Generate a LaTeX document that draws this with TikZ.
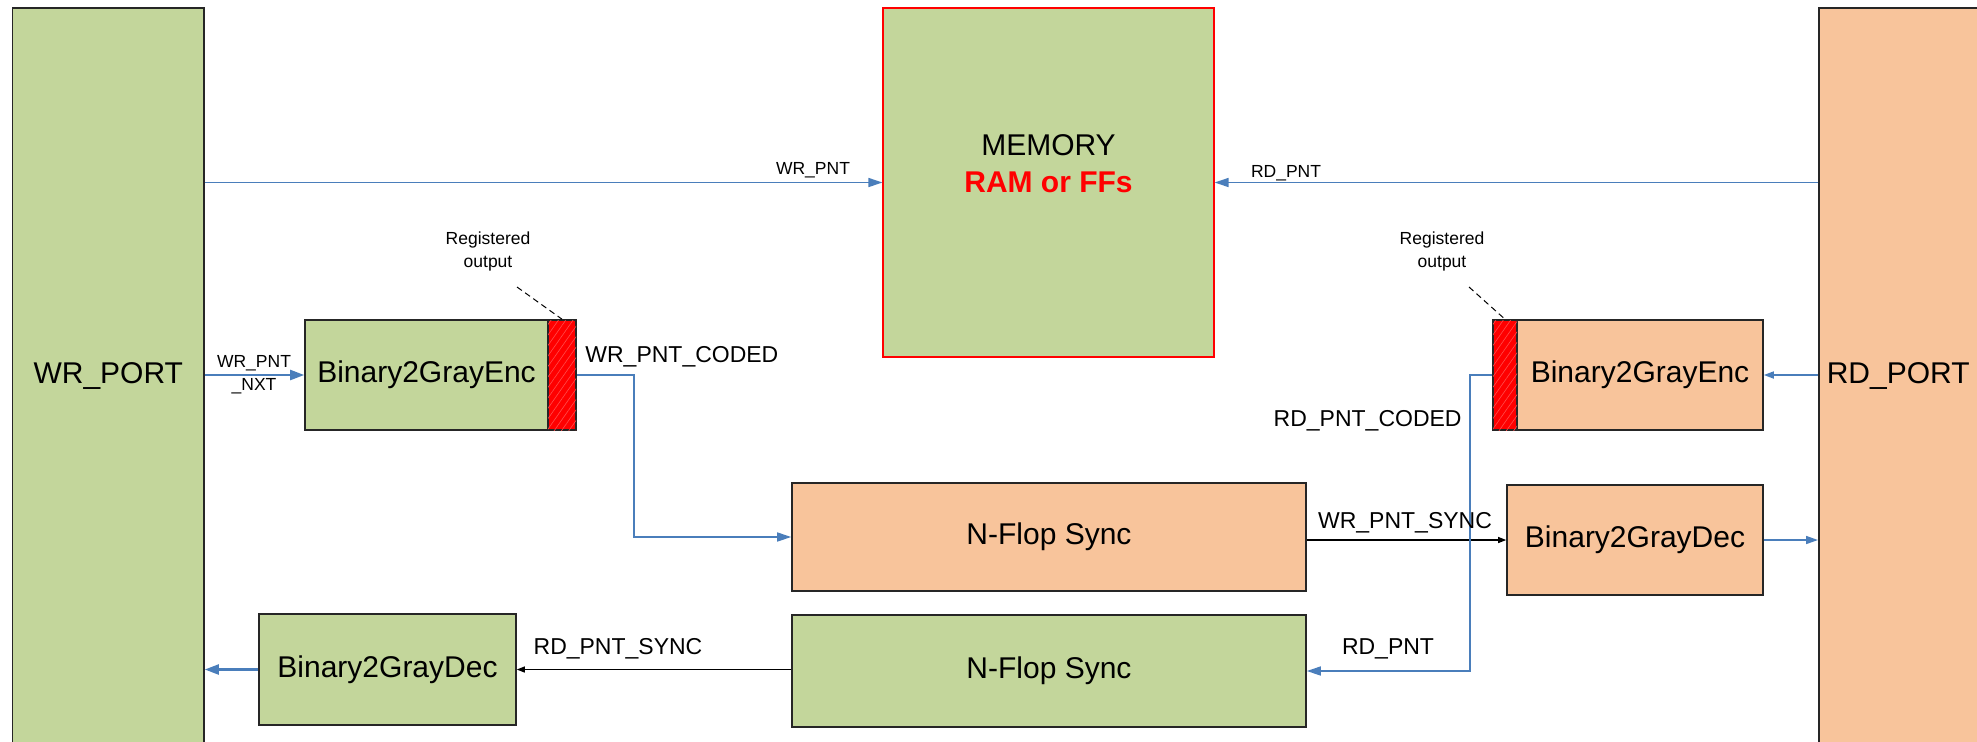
\documentclass[tikz,border=0pt]{standalone}
\usepackage{fontspec}
\setmainfont{Liberation Sans}
\usetikzlibrary{arrows.meta,patterns.meta}
\definecolor{bgreen}{HTML}{C3D69B}
\definecolor{borange}{HTML}{F8C49B}
\definecolor{lblue}{HTML}{4A7EBB}
\begin{document}
\begin{tikzpicture}[x=0.5pt,y=-0.5pt,
  box/.style={draw=black!85, line width=0.8pt, inner sep=0pt, font=\fontsize{15}{18}\selectfont},
  gbox/.style={box, fill=bgreen},
  obox/.style={box, fill=borange},
  regstrip/.style={draw=black!85, line width=0.8pt, fill=red, inner sep=0pt,
    postaction={pattern={Lines[angle=55,distance=3pt,line width=0.3pt]}, pattern color=red!70!white}},
  wire/.style={draw=lblue, line width=0.8pt},
  bigtip/.style={-{Triangle[length=7pt,width=4.5pt]}},
  sig/.style={draw=black, line width=0.6pt, -{Triangle[length=4pt,width=3pt]}},
  lbl/.style={font=\fontsize{11.5}{13}\selectfont, inner sep=0pt},
  small/.style={font=\fontsize{8.75}{11.5}\selectfont, align=center, inner sep=0pt},
  note/.style={draw=black, line width=0.5pt, dash pattern=on 3pt off 2pt}
]
\useasboundingbox (0,0) rectangle (1977,741);

% ports and memory
\node[gbox, minimum width=95.7pt, minimum height=368pt] (wrport) at (108.3,376) {WR\_PORT};
\node[obox, anchor=west, minimum height=368pt, text width=133pt, align=left, inner xsep=4pt] (rdport) at (1818,376) {RD\_PORT};
\node[fill=bgreen, draw=red, line width=0.6pt, minimum width=165.5pt, minimum height=174.5pt, inner sep=0pt] (memory) at (1048.5,182.5) {};
\node[font=\fontsize{15}{18.5}\selectfont, align=center, inner sep=0pt] (memtext) at (1048.5,164) {MEMORY\\\textcolor{red}{\textbf{RAM or FFs}}};

% encoders
\node[gbox, minimum width=121.5pt, minimum height=55pt] (wrenc) at (426.5,375) {Binary2GrayEnc};
\node[regstrip, minimum width=14pt, minimum height=55pt] (wrstrip) at (562,375) {};
\node[obox, minimum width=123pt, minimum height=55pt] (rdenc) at (1640,375) {Binary2GrayEnc};
\node[regstrip, minimum width=12pt, minimum height=55pt] (rdstrip) at (1505,375) {};

% syncs and decoders
\node[obox, minimum width=257pt, minimum height=54pt] (nflopW) at (1049,537) {N-Flop Sync};
\node[obox, minimum width=128pt, minimum height=55pt] (decR) at (1635,540) {Binary2GrayDec};
\node[gbox, minimum width=257pt, minimum height=56pt] (nflopR) at (1049,671) {N-Flop Sync};
\node[gbox, minimum width=128.5pt, minimum height=55.5pt] (decW) at (387.5,669.5) {Binary2GrayDec};

% connectors
\draw[wire, bigtip] (wrport.east |- memory.west) -- (memory.west);
\draw[wire, bigtip] (rdport.west |- memory.east) -- (memory.east);
\draw[wire, line width=1.1pt, -{Triangle[length=7pt,width=5pt]}] (wrport.east |- wrenc.west) -- (wrenc.west);
\coordinate (wrbend) at (634,450);
\draw[wire, bigtip] (wrstrip.east) -| (wrbend) |- (nflopW.west);
\draw[sig] (nflopW.east |- decR.west) -- (decR.west);
\draw[wire, -{Triangle[length=6pt,width=4pt]}] (decR.east) -- (decR.east -| rdport.west);
\draw[wire, -{Triangle[length=5pt,width=3.5pt]}] (rdport.west |- rdenc.east) -- (rdenc.east);
\coordinate (rdbend) at (1470,500);
\draw[wire, bigtip] (rdstrip.west) -| (rdbend) |- (nflopR.east);
\draw[sig] (nflopR.west |- decW.east) -- (decW.east);
\draw[wire, line width=1.1pt, -{Triangle[length=7pt,width=5pt]}] (decW.west) -- (decW.west -| wrport.east);

% annotations
\node[small] (regL) at (488,251) {Registered\\output};
\node[small] (regR) at (1442,251) {Registered\\output};
\coordinate (dL) at (517,287);
\coordinate (dR) at (1469,287);
\draw[note] (dL) -- (wrstrip.north);
\draw[note] (dR) -- (rdstrip.north);

% labels
\node[small] (lwrpnt) at (813,170) {WR\_PNT};
\node[small] (lrdpnt) at (1286,173) {RD\_PNT};
\node[small] (lnxt) at (254,375) {WR\_PNT\\\_NXT};
\node[lbl, anchor=west] (lcoded) at (585,357) {WR\_PNT\_CODED};
\node[lbl] (lsync) at (1405,523) {WR\_PNT\_SYNC};
\node[lbl, anchor=east] (lrdcoded) at (1462,421) {RD\_PNT\_CODED};
\node[lbl] (lrdpnt2) at (1388,649) {RD\_PNT};
\node[lbl] (lrdsync) at (618,649) {RD\_PNT\_SYNC};
\end{tikzpicture}
\end{document}
